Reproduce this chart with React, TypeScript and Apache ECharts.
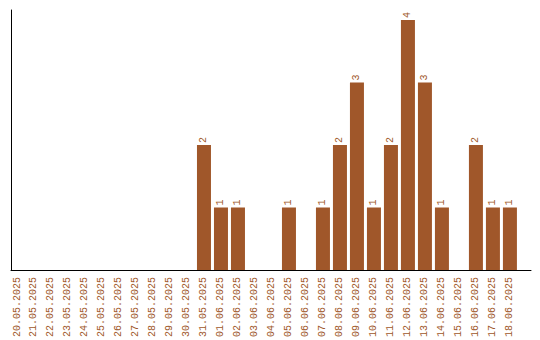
import React, { useEffect, useRef } from "react";
import * as echarts from "echarts";

const categories: string[] = [
  "20.05.2025", "21.05.2025", "22.05.2025", "23.05.2025", "24.05.2025",
  "25.05.2025", "26.05.2025", "27.05.2025", "28.05.2025", "29.05.2025",
  "30.05.2025", "31.05.2025", "01.06.2025", "02.06.2025", "03.06.2025",
  "04.06.2025", "05.06.2025", "06.06.2025", "07.06.2025", "08.06.2025",
  "09.06.2025", "10.06.2025", "11.06.2025", "12.06.2025", "13.06.2025",
  "14.06.2025", "15.06.2025", "16.06.2025", "17.06.2025", "18.06.2025",
];
const values: number[] = [
  0, 0, 0, 0, 0, 0, 0, 0, 0, 0,
  0, 2, 1, 1, 0, 0, 1, 0, 1, 2,
  3, 1, 2, 4, 3, 1, 0, 2, 1, 1,
];
const tickPositions: number[] = categories.map((_, i) => i);

const COLOR = "#A0572A";
const FONT = "Liberation Mono";

export default function App() {
  const ref = useRef<HTMLDivElement>(null);
  useEffect(() => {
    document.body.style.margin = "0";
    if (!ref.current) return;
    const chart = echarts.init(ref.current, null, { renderer: "svg" });
    const data = values
      .map((v, i) => [i, v])
      .filter((d) => d[1] > 0);
    chart.setOption({
      animation: false,
      grid: { left: 11, top: 10, width: 520, height: 260, containLabel: false },
      xAxis: {
        type: "value",
        min: -0.353,
        max: 30.24,
        splitLine: { show: false },
        axisTick: { show: false },
        axisLine: { show: true, onZero: false, lineStyle: { color: "#000", width: 1 } },
        axisLabel: {
          customValues: tickPositions,
          rotate: 90,
          margin: 7,
          color: COLOR,
          fontFamily: FONT,
          fontSize: 10,
          formatter: (v: number) => categories[Math.round(v)] ?? "",
        },
      },
      yAxis: {
        type: "value",
        min: 0,
        max: 4.16,
        splitLine: { show: false },
        axisTick: { show: false },
        axisLabel: { show: false },
        axisLine: { show: true, onZero: false, lineStyle: { color: "#000", width: 1 } },
      },
      series: [
        {
          type: "bar",
          data,
          barWidth: 14,
          itemStyle: { color: COLOR },
          label: {
            show: true,
            position: "top",
            rotate: 90,
            align: "left",
            verticalAlign: "middle",
            distance: 2,
            color: COLOR,
            fontFamily: FONT,
            fontSize: 10,
            formatter: (p: any) => String(p.value[1]),
          },
        },
      ],
    });
    return () => chart.dispose();
  }, []);
  return <div ref={ref} style={{ width: 540, height: 340 }} />;
}
